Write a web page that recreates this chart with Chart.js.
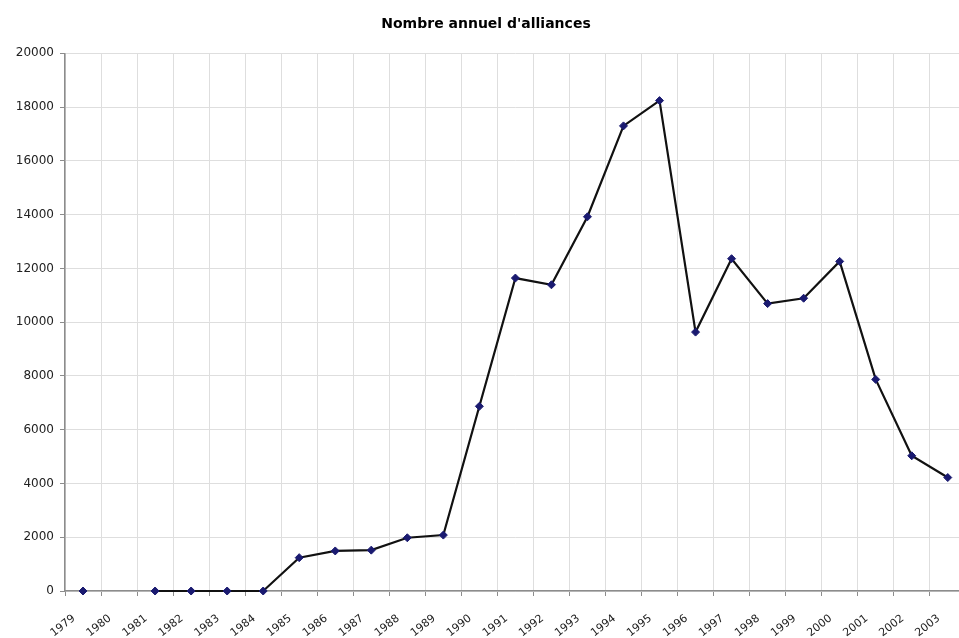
<!DOCTYPE html>
<html>
<head>
<meta charset="utf-8">
<title>Nombre annuel d'alliances</title>
<script src="https://cdn.jsdelivr.net/npm/chart.js@4.4.1/dist/chart.umd.min.js"></script>
<style>
  html, body { margin: 0; padding: 0; background: #fff; overflow: hidden; }
  #wrap { position: absolute; left: 0; top: 0; width: 972px; height: 638px; }
</style>
</head>
<body>
<div id="wrap"><canvas id="chart"></canvas></div>
<script>
// Years on the category axis
const years = ['1979','1980','1981','1982','1983','1984','1985','1986','1987','1988','1989','1990',
               '1991','1992','1993','1994','1995','1996','1997','1998','1999','2000','2001','2002','2003'];

// Number of alliances per year (1980 not reported)
const alliances = [0, null, 0, 0, 0, 0, 1240, 1490, 1520, 1980, 2080, 6870,
                   11640, 11390, 13920, 17300, 18240, 9630, 12360, 10690, 10890, 12260, 7870, 5030, 4220];

// Value axis range
const yMin = 0;
const yMax = 20000;
const yStep = 2000;

const chartTitle = "Nombre annuel d'alliances";

const axisColor = '#8c8c8c';
const gridColor = '#dedede';

new Chart(document.getElementById('chart'), {
  type: 'line',
  data: {
    labels: years,
    datasets: [{
      label: chartTitle,
      data: alliances,
      clip: false,
      borderColor: '#111',
      borderWidth: 2.2,
      tension: 0,
      spanGaps: false,
      pointStyle: 'rectRot',
      pointRadius: 4,
      pointBackgroundColor: '#1a1a70',
      pointBorderColor: '#1a1a70',
      pointBorderWidth: 1
    }]
  },
  options: {
    responsive: true,
    maintainAspectRatio: false,
    animation: false,
    layout: { padding: { left: 0, right: 0, top: 0, bottom: 0 } },
    plugins: {
      legend: { display: false },
      tooltip: { enabled: false },
      title: {
        display: true,
        text: chartTitle,
        color: '#000',
        font: { family: 'DejaVu Sans', size: 14, weight: 'bold' },
        padding: { top: 16, bottom: 20.5 }
      }
    },
    scales: {
      x: {
        type: 'category',
        offset: true,
        grid: {
          offset: true,
          color: gridColor,
          lineWidth: 1,
          drawTicks: true,
          tickLength: 5,
          tickColor: axisColor
        },
        border: { color: axisColor, width: 1.5 },
        ticks: {
          autoSkip: false,
          minRotation: 38,
          maxRotation: 38,
          labelOffset: -9,
          padding: 16,
          color: '#222',
          font: { family: 'DejaVu Sans', size: 11 }
        },
        afterFit(scale) { scale.height = 47; }
      },
      y: {
        min: yMin,
        max: yMax,
        grid: {
          color: gridColor,
          lineWidth: 1,
          drawTicks: true,
          tickLength: 5,
          tickColor: axisColor
        },
        border: { color: axisColor, width: 1.5 },
        ticks: {
          stepSize: yStep,
          padding: 6,
          color: '#222',
          font: { family: 'DejaVu Sans', size: 12 },
          callback: (v) => String(v)
        },
        afterFit(scale) { scale.width = 65; }
      }
    }
  }
});
</script>
</body>
</html>
